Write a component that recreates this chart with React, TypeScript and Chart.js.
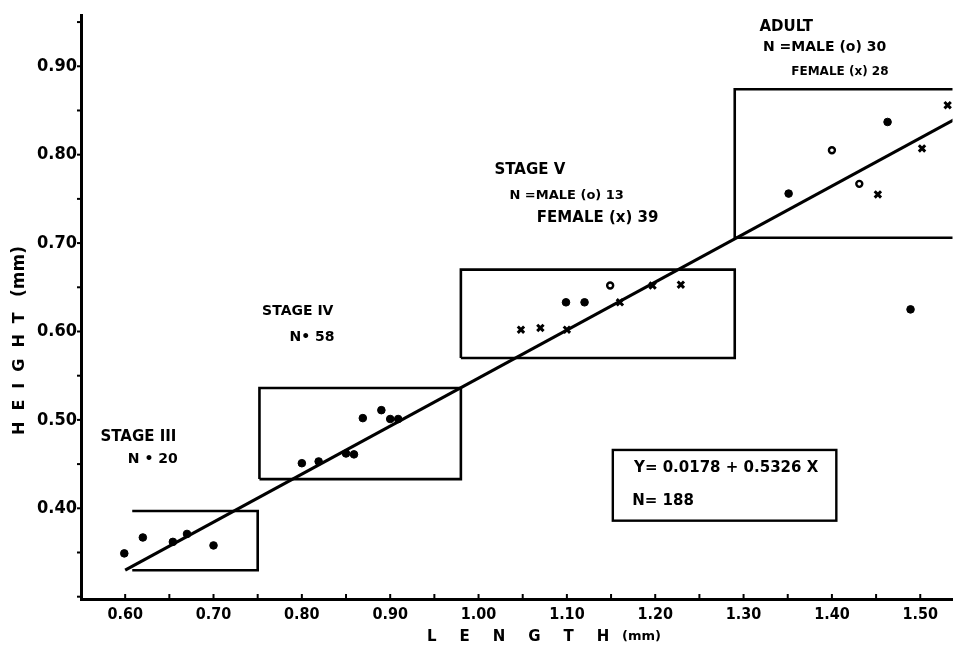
import React, { useEffect, useRef } from 'react';
import { Chart, registerables } from 'chart.js';

Chart.register(...registerables);

const xTickLabels = ['0.60', '0.70', '0.80', '0.90', '1.00', '1.10', '1.20', '1.30', '1.40', '1.50'];
const yTickLabels = ['0.40', '0.50', '0.60', '0.70', '0.80', '0.90'];

// Male, filled dots
const maleFilled = [
  { x: 0.599, y: 0.349 }, { x: 0.620, y: 0.367 }, { x: 0.654, y: 0.362 }, { x: 0.670, y: 0.371 }, { x: 0.700, y: 0.358 },
  { x: 0.800, y: 0.451 }, { x: 0.819, y: 0.453 }, { x: 0.850, y: 0.462 }, { x: 0.859, y: 0.461 },
  { x: 0.869, y: 0.502 }, { x: 0.890, y: 0.511 }, { x: 0.900, y: 0.501 }, { x: 0.909, y: 0.501 },
  { x: 1.099, y: 0.633 }, { x: 1.120, y: 0.633 },
  { x: 1.351, y: 0.756 }, { x: 1.463, y: 0.837 }, { x: 1.489, y: 0.625 },
];
// Male, open circles
const maleOpen = [
  { x: 1.149, y: 0.652 }, { x: 1.400, y: 0.805 }, { x: 1.431, y: 0.767 },
];
// Female, crosses
const female = [
  { x: 1.048, y: 0.602 }, { x: 1.070, y: 0.604 }, { x: 1.100, y: 0.602 }, { x: 1.160, y: 0.633 },
  { x: 1.197, y: 0.652 }, { x: 1.229, y: 0.653 },
  { x: 1.452, y: 0.755 }, { x: 1.502, y: 0.807 }, { x: 1.531, y: 0.856 },
];
// Regression line Y = 0.0178 + 0.5326 X (as drawn)
const regression = [{ x: 0.60, y: 0.33 }, { x: 1.55, y: 0.846 }];

// Stage boxes
const stage3Box = [{ x: 0.608, y: 0.397 }, { x: 0.75, y: 0.397 }, { x: 0.75, y: 0.33 }, { x: 0.608, y: 0.33 }];
const stage4Box = [{ x: 0.752, y: 0.433 }, { x: 0.98, y: 0.433 }, { x: 0.98, y: 0.536 }, { x: 0.752, y: 0.536 }, { x: 0.752, y: 0.433 }];
const stage5Box = [{ x: 0.98, y: 0.57 }, { x: 1.29, y: 0.57 }, { x: 1.29, y: 0.670 }, { x: 0.98, y: 0.670 }, { x: 0.98, y: 0.57 }];
const adultBox = [{ x: 1.6, y: 0.874 }, { x: 1.29, y: 0.874 }, { x: 1.29, y: 0.706 }, { x: 1.6, y: 0.706 }];
const equationBox = [{ x: 1.152, y: 0.466 }, { x: 1.405, y: 0.386 }];

const annotations = [
  { text: 'STAGE III', x: 0.572, y: 0.480, size: 15 },
  { text: 'N • 20', x: 0.603, y: 0.455, size: 14 },
  { text: 'STAGE IV', x: 0.755, y: 0.623, size: 14 },
  { text: 'N• 58', x: 0.786, y: 0.593, size: 14 },
  { text: 'STAGE V', x: 1.018, y: 0.782, size: 15 },
  { text: 'N =MALE (o) 13', x: 1.035, y: 0.754, size: 13 },
  { text: 'FEMALE (x) 39', x: 1.066, y: 0.728, size: 15 },
  { text: 'ADULT', x: 1.318, y: 0.944, size: 15 },
  { text: 'N =MALE (o) 30', x: 1.322, y: 0.921, size: 14 },
  { text: 'FEMALE (x) 28', x: 1.354, y: 0.894, size: 12 },
  { text: 'Y= 0.0178 + 0.5326 X', x: 1.176, y: 0.445, size: 15 },
  { text: 'N= 188', x: 1.174, y: 0.408, size: 15 },
];

const COND = "'DejaVu Sans Condensed', 'Liberation Sans Narrow', 'DejaVu Sans', sans-serif";
const WIDE = "'DejaVu Sans', 'Liberation Sans', sans-serif";

function labelFor(list: string[], v: number) {
  const hit = list.find((l) => Math.abs(parseFloat(l) - v) < 1e-6);
  return hit ?? '';
}

const decorPlugin = {
  id: 'decor',
  afterDatasetsDraw(chart: any) {
    const { ctx, scales } = chart;
    const xs = scales.x;
    const ys = scales.y;
    ctx.save();
    ctx.strokeStyle = '#000';
    ctx.fillStyle = '#000';
    // tick marks every 0.05
    ctx.lineWidth = 2;
    xs.ticks.forEach((t: any) => {
      const v = t.value;
      if (Math.abs(Math.round(v / 0.05) * 0.05 - v) > 1e-6) return;
      const px = xs.getPixelForValue(v);
      ctx.beginPath();
      ctx.moveTo(px, xs.top);
      ctx.lineTo(px, xs.top - 5);
      ctx.stroke();
    });
    ys.ticks.forEach((t: any) => {
      const v = t.value;
      if (Math.abs(Math.round(v / 0.05) * 0.05 - v) > 1e-6) return;
      const py = ys.getPixelForValue(v);
      ctx.beginPath();
      ctx.moveTo(ys.right, py);
      ctx.lineTo(ys.right - 4, py);
      ctx.stroke();
    });
    // equation box
    const x1 = xs.getPixelForValue(equationBox[0].x);
    const y1 = ys.getPixelForValue(equationBox[0].y);
    const x2 = xs.getPixelForValue(equationBox[1].x);
    const y2 = ys.getPixelForValue(equationBox[1].y);
    ctx.lineWidth = 2.4;
    ctx.strokeRect(x1, y1, x2 - x1, y2 - y1);
    // annotations
    ctx.textAlign = 'left';
    ctx.textBaseline = 'middle';
    annotations.forEach((a) => {
      ctx.font = `bold ${a.size}px ${WIDE}`;
      ctx.fillText(a.text, xs.getPixelForValue(a.x), ys.getPixelForValue(a.y));
    });
    // axis titles
    ctx.textAlign = 'left';
    ctx.font = `bold 15px ${WIDE}`;
    (ctx as any).letterSpacing = '23px';
    ctx.fillText('LENGTH', 427, 637);
    (ctx as any).letterSpacing = '0px';
    ctx.font = `bold 13px ${WIDE}`;
    ctx.fillText('(mm)', 622, 637);
    ctx.translate(20, 395);
    ctx.rotate(-Math.PI / 2);
    ctx.font = `bold 16px ${WIDE}`;
    (ctx as any).letterSpacing = '11px';
    ctx.fillText('HEIGHT', -40, 0);
    (ctx as any).letterSpacing = '0px';
    ctx.font = `bold 17px ${WIDE}`;
    ctx.fillText('(mm)', 98, 0);
    ctx.restore();
  },
};

export default function App() {
  const ref = useRef<HTMLCanvasElement>(null);
  useEffect(() => {
    if (!ref.current) return;
    const boxStyle = (data: any[], w = 2.6) => ({
      type: 'scatter' as const,
      data,
      showLine: true,
      borderColor: '#000',
      borderWidth: w,
      pointRadius: 0,
      fill: false,
      tension: 0,
    });
    const chart = new Chart(ref.current, {
      type: 'scatter',
      data: {
        datasets: [
          boxStyle(stage3Box),
          boxStyle(stage4Box),
          boxStyle(stage5Box),
          boxStyle(adultBox),
          boxStyle(regression, 3.2),
          {
            label: 'Male',
            data: maleFilled,
            pointStyle: 'circle',
            pointRadius: 3.8,
            backgroundColor: '#000',
            borderColor: '#000',
            borderWidth: 1,
          },
          {
            label: 'Male (o)',
            data: maleOpen,
            pointStyle: 'circle',
            pointRadius: 3,
            backgroundColor: '#fff',
            borderColor: '#000',
            borderWidth: 2.4,
          },
          {
            label: 'Female (x)',
            data: female,
            pointStyle: 'crossRot',
            pointRadius: 4.5,
            borderColor: '#000',
            borderWidth: 3,
          },
        ],
      },
      options: {
        responsive: false,
        animation: false,
        events: [],
        layout: { padding: { left: 0, right: 2, top: 15, bottom: 0 } },
        plugins: { legend: { display: false }, tooltip: { enabled: false } },
        scales: {
          x: {
            type: 'linear',
            min: 0.55,
            max: 1.5365,
            afterFit: (s: any) => { s.height = 52; },
            grid: { display: false, drawTicks: false },
            border: { display: true, color: '#000', width: 3 },
            ticks: {
              stepSize: 0.05,
              includeBounds: false,
              autoSkip: false,
              maxRotation: 0,
              padding: 6,
              color: '#000',
              font: { family: COND, size: 16, weight: 'bold' },
              callback: (v: any) => labelFor(xTickLabels, Number(v)),
            },
          },
          y: {
            type: 'linear',
            min: 0.2974,
            max: 0.958,
            afterFit: (s: any) => { s.width = 81; },
            grid: { display: false, drawTicks: false },
            border: { display: true, color: '#000', width: 3 },
            ticks: {
              stepSize: 0.05,
              includeBounds: false,
              autoSkip: false,
              padding: 4,
              color: '#000',
              font: { family: COND, size: 18, weight: 'bold' },
              callback: (v: any) => labelFor(yTickLabels, Number(v)),
            },
          },
        },
      },
      plugins: [decorPlugin],
    } as any);
    return () => chart.destroy();
  }, []);
  return (
    <div style={{ position: 'absolute', left: 0, top: 0, width: 960, height: 651, background: '#fff' }}>
      <canvas ref={ref} width={960} height={651} />
    </div>
  );
}
